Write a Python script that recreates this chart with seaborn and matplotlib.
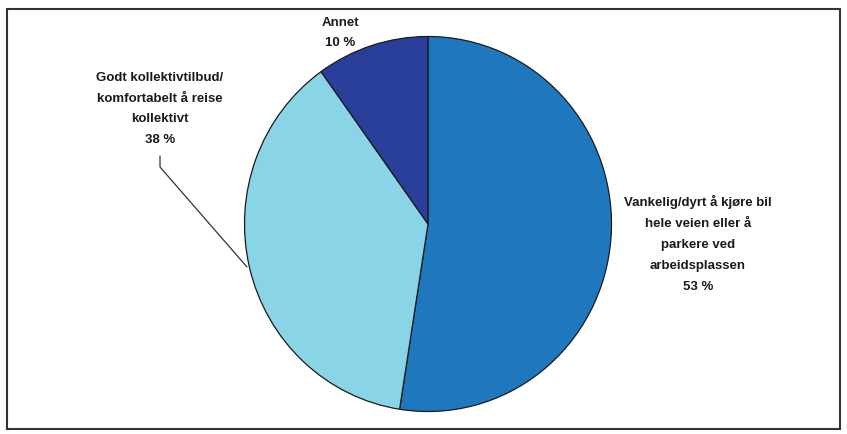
import matplotlib
matplotlib.use("Agg")
import matplotlib.pyplot as plt
import seaborn as sns
from matplotlib.patches import Rectangle

categories = [
    "Vankelig/dyrt å kjøre bil\nhele veien eller å\nparkere ved\narbeidsplassen",
    "Godt kollektivtilbud/\nkomfortabelt å reise\nkollektivt",
    "Annet",
]
values = [53, 38, 10]
pct_labels = ["53 %", "38 %", "10 %"]
colors = ["#1F78BE", "#8AD4E8", "#2A3F99"]

sns.set_theme(style="white")
plt.rcParams["font.family"] = ["Liberation Sans", "DejaVu Sans"]

fig = plt.figure(figsize=(8.47, 4.35), dpi=100)
fig.patch.set_facecolor("white")

W, H = 847, 435
cx, cy, rx, ry = 428, 225, 183.5, 187.5
ax = fig.add_axes([(cx - rx) / W, (H - cy - ry) / H, 2 * rx / W, 2 * ry / H])
ax.pie(values, colors=colors, startangle=90, counterclock=False,
       wedgeprops=dict(edgecolor="#1a1a1a", linewidth=0.9), radius=1.0)
ax.set_aspect("auto")
ax.set_xlim(-1, 1)
ax.set_ylim(-1, 1)
ax.axis("off")

def d(px, py):
    return ((px - cx) / rx, (cy - py) / ry)

fs = 9.5
tcol = "#1a1a1a"
ls = 1.98
kw = dict(ha="center", va="center", fontsize=fs, color=tcol, linespacing=ls,
          fontweight="bold", clip_on=False)
x, y = d(698, 244)
ax.text(x, y, categories[0] + "\n" + pct_labels[0], **kw)
x, y = d(160, 109)
ax.text(x, y, categories[1] + "\n" + pct_labels[1], **kw)
x, y = d(340, 33)
ax.text(x, y, categories[2] + "\n" + pct_labels[2], **kw)

# leader line
p1, p2, p3 = d(160, 157), d(160, 168), d(247, 268)
ax.plot([p1[0], p2[0], p3[0]], [p1[1], p2[1], p3[1]], color="#333333",
        linewidth=0.9, clip_on=False)

# outer frame
fig.patches.append(Rectangle((7 / W, 5 / H), 833 / W, 420 / H,
                             transform=fig.transFigure, fill=False,
                             edgecolor="#333333", linewidth=1.5))

fig.savefig("out.png", dpi=100, facecolor="white")
